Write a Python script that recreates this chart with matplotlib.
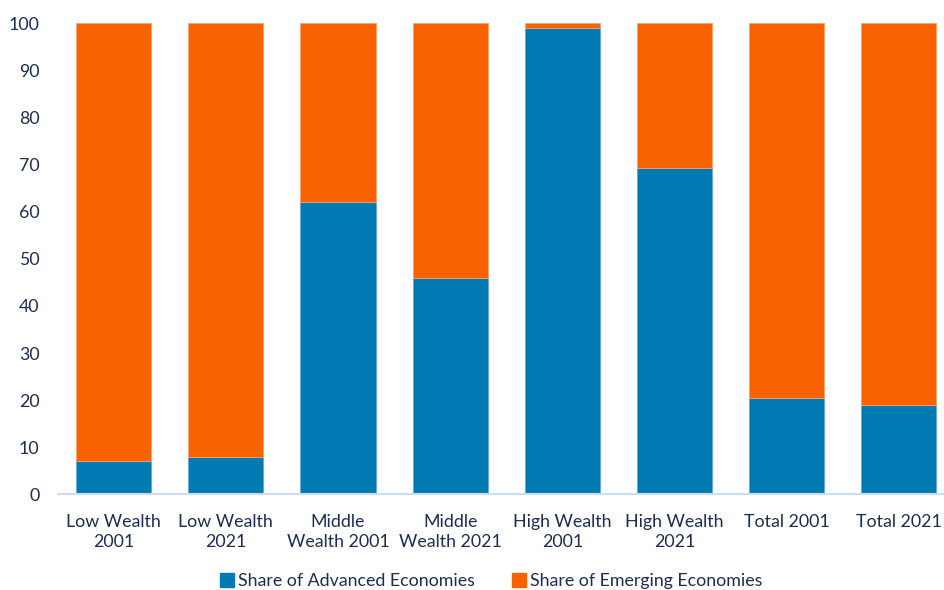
import matplotlib.pyplot as plt
from matplotlib.patches import Patch

categories = ['Low Wealth\n2001', 'Low Wealth\n2021', 'Middle\nWealth 2001', 'Middle\nWealth 2021',
              'High Wealth\n2001', 'High Wealth\n2021', 'Total 2001', 'Total 2021']
advanced = [7.0, 7.9, 62.1, 45.9, 99.0, 69.2, 20.4, 19.0]
emerging = [100 - v for v in advanced]

BLUE = '#007ab3'
ORANGE = '#f86200'
TEXT = '#1c2d50'

plt.rcParams['font.family'] = ['Lato', 'DejaVu Sans']

fig = plt.figure(figsize=(9.44, 5.9), dpi=100)
ax = fig.add_axes([57.6 / 944, 1 - 494.3 / 590, (955 - 57.6) / 944, (494.3 - 23.3) / 590])

x = range(len(categories))
ax.bar(x, advanced, width=0.67, color=BLUE, edgecolor='#5fa9d6', linewidth=0.6)
ax.bar(x, emerging, bottom=advanced, width=0.67, color=ORANGE, edgecolor='#fba26a', linewidth=0.6)

ax.set_xlim(-0.5, 7.5)
ax.set_ylim(0, 100)
ax.set_yticks(range(0, 101, 10))
ax.set_xticks(list(x))
ax.set_xticklabels(categories, fontsize=12.8, color=TEXT, linespacing=1.35)
ax.tick_params(axis='y', labelsize=12.8, labelcolor=TEXT, length=0, pad=13)
ax.tick_params(axis='x', length=0, pad=14)

for s in ['top', 'right', 'left']:
    ax.spines[s].set_visible(False)
ax.spines['bottom'].set_color('#c9def2')
ax.spines['bottom'].set_linewidth(1.5)

handles = [Patch(color=BLUE, label='Share of Advanced Economies'),
           Patch(color=ORANGE, label='Share of Emerging Economies')]
fig.legend(handles=handles, loc='center', bbox_to_anchor=(491 / 944, 1 - 581 / 590), ncol=2,
           frameon=False, fontsize=12.8, labelcolor=TEXT, handlelength=0.8, handleheight=0.8,
           handletextpad=0.2, columnspacing=2.1)

fig.savefig('out.png', dpi=100)
